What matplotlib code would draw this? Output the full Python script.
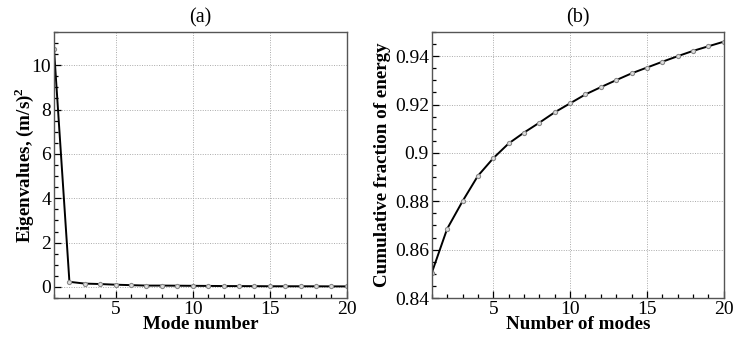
import matplotlib
matplotlib.use("Agg")
import matplotlib.pyplot as plt
from matplotlib.ticker import MultipleLocator, FixedLocator

modes = list(range(1, 21))
eigenvalues = [10.72, 0.23, 0.15, 0.13, 0.10, 0.08, 0.06, 0.06, 0.055, 0.05,
               0.045, 0.04, 0.037, 0.035, 0.03, 0.03, 0.029, 0.028, 0.025, 0.024]
cumulative = [0.8504, 0.8686, 0.8800, 0.8905, 0.8978, 0.9039, 0.9084, 0.9125,
              0.9168, 0.9205, 0.9242, 0.9272, 0.9301, 0.9329, 0.9353, 0.9377,
              0.9400, 0.9422, 0.9441, 0.9460]

plt.rcParams['font.family'] = ['Liberation Serif', 'DejaVu Serif']
plt.rcParams['mathtext.fontset'] = 'custom'
plt.rcParams['mathtext.rm'] = 'Liberation Serif'
plt.rcParams['mathtext.bf'] = 'Liberation Serif:bold'

fig = plt.figure(figsize=(7.47, 3.52), dpi=100)
axa = fig.add_axes([0.0723, 0.1534, 0.392, 0.7557])
axb = fig.add_axes([0.578, 0.1534, 0.391, 0.7557])

def style(ax):
    ax.tick_params(which='both', direction='in', top=False, right=False,
                   labelsize=14, width=0.9, pad=2)
    ax.tick_params(which='major', length=5)
    ax.tick_params(which='minor', length=3)
    ax.grid(True, which='major', linestyle=(0, (1, 1.5)), color='#aaaaaa', linewidth=0.7)
    ax.set_axisbelow(True)
    for s in ax.spines.values():
        s.set_color('#555555')
        s.set_linewidth(1.0)
    ax.set_xlim(1, 20)
    ax.xaxis.set_major_locator(FixedLocator([5, 10, 15, 20]))
    ax.xaxis.set_minor_locator(MultipleLocator(1))

mk = dict(color='black', linewidth=1.4, marker='o', markersize=3,
          markerfacecolor='#dddddd', markeredgecolor='#888888', markeredgewidth=0.8)

axa.plot(modes, eigenvalues, **mk)
style(axa)
axa.set_ylim(-0.5, 11.5)
axa.yaxis.set_major_locator(FixedLocator([0, 2, 4, 6, 8, 10]))
axa.yaxis.set_minor_locator(MultipleLocator(0.5))
axa.set_xlabel('Mode number', fontsize=13.7, fontweight='bold', labelpad=-1)
axa.set_ylabel(r'Eigenvalues, (m/s)$^\mathbf{2}$', fontsize=13.7, fontweight='bold', labelpad=-3)
axa.set_title('(a)', fontsize=14.5, pad=7)

axb.plot(modes, cumulative, **mk)
style(axb)
axb.set_ylim(0.84, 0.95)
axb.yaxis.set_major_locator(FixedLocator([0.84, 0.86, 0.88, 0.9, 0.92, 0.94]))
axb.yaxis.set_minor_locator(MultipleLocator(0.005))
axb.set_yticklabels(['0.84', '0.86', '0.88', '0.9', '0.92', '0.94'])
axb.set_xlabel('Number of modes', fontsize=13.7, fontweight='bold', labelpad=-1)
axb.set_ylabel('Cumulative fraction of energy', fontsize=13.7, fontweight='bold', labelpad=3)
axb.set_title('(b)', fontsize=14.5, pad=7)

fig.savefig('out.png', dpi=100)
